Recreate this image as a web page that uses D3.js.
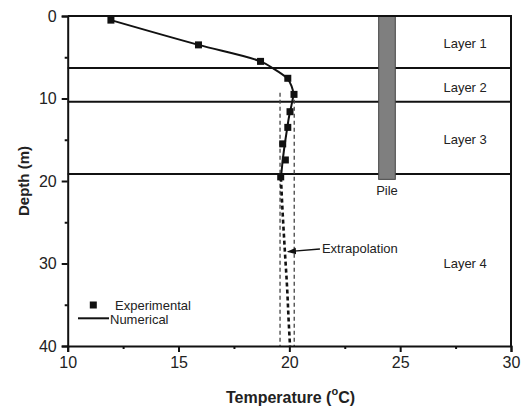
<!DOCTYPE html>
<html>
<head>
<meta charset="utf-8">
<script src="https://cdn.jsdelivr.net/npm/d3@7"></script>
<style>
  html, body { margin: 0; padding: 0; background: #fff; }
  svg { display: block; font-family: "Liberation Sans", Arial, sans-serif; }
</style>
</head>
<body>
<svg id="chart" width="523" height="412"></svg>
<script>
// Axis ticks
const tempTicks = [10, 15, 20, 25, 30];
const tempMinor = [12.5, 17.5, 22.5, 27.5];
const depthTicks = [0, 10, 20, 30, 40];
const depthMinor = [5, 15, 25, 35];

// Measured ground temperature profile
const expDepth = [0.5, 3.5, 5.5, 7.55, 9.5, 11.6, 13.5, 15.5, 17.45, 19.5];
const expTemp  = [11.95, 15.9, 18.7, 19.93, 20.21, 20.03, 19.93, 19.7, 19.82, 19.61];

// Numerical profile (solid part, within the pile length)
const numDepth = [0.5, 3.5, 5.5, 6.4, 7.5, 8.5, 9.5, 10.5, 12, 14, 16, 18, 19.6];
const numTemp  = [11.95, 15.9, 18.7, 19.3, 19.88, 20.1, 20.18, 20.12, 20.0, 19.88, 19.77, 19.68, 19.62];

// Numerical profile extrapolated below the pile toe
const extDepth = [19.6, 24, 28.6, 33, 37, 40];
const extTemp  = [19.62, 19.7, 19.8, 19.9, 19.97, 20.03];

// Bounds of the extrapolated band
const bandTemp = [19.58, 20.22];
const bandDepth = [9.3, 40];

// Soil layer boundaries and labels
const layerBounds = [6.3, 10.4, 19.15];
const layerNames = ["Layer 1", "Layer 2", "Layer 3", "Layer 4"];
const layerLabelDepth = [3.3, 8.65, 15.0, 30.05];
const layerLabelTemp = 27.93;

// Pile extent
const pileTemp = [24.03, 24.78];
const pileDepth = [0, 19.8];

const svg = d3.select("#chart");
const x = d3.scaleLinear().domain([10, 30]).range([67.7, 511]);
const y = d3.scaleLinear().domain([0, 40]).range([16, 346]);
const ink = "#111";
const textCol = "#222";

// Layer boundaries
svg.append("g").selectAll("line").data(layerBounds).join("line")
  .attr("x1", x(10)).attr("x2", x(30))
  .attr("y1", d => y(d)).attr("y2", d => y(d))
  .attr("stroke", ink).attr("stroke-width", 2);

// Pile
svg.append("rect")
  .attr("x", x(pileTemp[0])).attr("y", y(pileDepth[0]))
  .attr("width", x(pileTemp[1]) - x(pileTemp[0]))
  .attr("height", y(pileDepth[1]) - y(pileDepth[0]))
  .attr("fill", "#7f7f7f").attr("stroke", "#444").attr("stroke-width", 1);
svg.append("text").attr("x", x((pileTemp[0] + pileTemp[1]) / 2)).attr("y", y(21.1))
  .attr("text-anchor", "middle").attr("dominant-baseline", "central")
  .attr("font-size", 13).attr("fill", textCol).text("Pile");

// Layer labels
svg.append("g").selectAll("text").data(layerNames).join("text")
  .attr("x", x(layerLabelTemp)).attr("y", (d, i) => y(layerLabelDepth[i]))
  .attr("text-anchor", "middle").attr("dominant-baseline", "central")
  .attr("font-size", 13).attr("fill", textCol).text(d => d);

// Extrapolation band
svg.append("g").selectAll("line").data(bandTemp).join("line")
  .attr("x1", d => x(d)).attr("x2", d => x(d))
  .attr("y1", y(bandDepth[0])).attr("y2", y(bandDepth[1]))
  .attr("stroke", "#444").attr("stroke-width", 1.3).attr("stroke-dasharray", "4,3");

// Numerical profile
const line = d3.line().x(d => x(d[1])).y(d => y(d[0])).curve(d3.curveMonotoneY);
svg.append("path").datum(numDepth.map((d, i) => [d, numTemp[i]]))
  .attr("d", line).attr("fill", "none").attr("stroke", ink).attr("stroke-width", 2);
svg.append("path").datum(extDepth.map((d, i) => [d, extTemp[i]]))
  .attr("d", line).attr("fill", "none").attr("stroke", ink).attr("stroke-width", 2.6)
  .attr("stroke-dasharray", "4,3");

// Measured points
const ms = 7;
svg.append("g").selectAll("rect").data(expDepth.map((d, i) => [d, expTemp[i]])).join("rect")
  .attr("x", d => x(d[1]) - ms / 2).attr("y", d => y(d[0]) - ms / 2)
  .attr("width", ms).attr("height", ms).attr("fill", ink);

// Extrapolation annotation
svg.append("defs").append("marker").attr("id", "arrow")
  .attr("viewBox", "0 0 10 10").attr("refX", 9).attr("refY", 5)
  .attr("markerWidth", 7).attr("markerHeight", 7).attr("orient", "auto")
  .append("path").attr("d", "M0,1.5L10,5L0,8.5Z").attr("fill", ink);
svg.append("line")
  .attr("x1", x(21.38)).attr("y1", y(28.24))
  .attr("x2", x(19.93)).attr("y2", y(28.57))
  .attr("stroke", ink).attr("stroke-width", 1.3).attr("marker-end", "url(#arrow)");
svg.append("text").attr("x", x(21.47)).attr("y", y(28.2))
  .attr("dominant-baseline", "central").attr("font-size", 13).attr("fill", textCol)
  .text("Extrapolation");

// Frame (top and right)
svg.append("path")
  .attr("d", `M${x(10)},${y(0)}H${x(30)}V${y(40)}`)
  .attr("fill", "none").attr("stroke", ink).attr("stroke-width", 2);

// Axes
const xAxis = svg.append("g").attr("transform", `translate(0,${y(40)})`)
  .call(d3.axisBottom(x).tickValues(tempTicks).tickSize(6).tickPadding(5));
const xMinor = svg.append("g").attr("transform", `translate(0,${y(40)})`)
  .call(d3.axisBottom(x).tickValues(tempMinor).tickSize(3).tickFormat(""));
const yAxis = svg.append("g").attr("transform", `translate(${x(10)},0)`)
  .call(d3.axisLeft(y).tickValues(depthTicks).tickSize(6).tickPadding(5));
const yMinor = svg.append("g").attr("transform", `translate(${x(10)},0)`)
  .call(d3.axisLeft(y).tickValues(depthMinor).tickSize(3).tickFormat(""));
[xAxis, xMinor, yAxis, yMinor].forEach(g => {
  g.select(".domain").attr("stroke", ink).attr("stroke-width", 2);
  g.selectAll(".tick line").attr("stroke", ink).attr("stroke-width", 2);
  g.selectAll(".tick text").attr("font-size", 16).attr("fill", textCol)
    .attr("font-family", "Liberation Sans, Arial, sans-serif");
});
xMinor.select(".domain").remove();
yMinor.select(".domain").remove();

// Axis titles
const xt = svg.append("text").attr("x", 290.5).attr("y", 397)
  .attr("text-anchor", "middle").attr("dominant-baseline", "central")
  .attr("font-size", 16).attr("font-weight", "bold").attr("fill", textCol);
xt.append("tspan").text("Temperature (");
xt.append("tspan").attr("font-size", 11).attr("dy", -6).text("o");
xt.append("tspan").attr("dy", 6).text("C)");
svg.append("text").attr("transform", `translate(23,${(y(0) + y(40)) / 2}) rotate(-90)`)
  .attr("text-anchor", "middle").attr("dominant-baseline", "central")
  .attr("font-size", 15).attr("font-weight", "bold").attr("fill", textCol)
  .text("Depth (m)");

// Legend
const lg = svg.append("g");
lg.append("rect").attr("x", 93.3 - ms / 2).attr("y", 305 - ms / 2)
  .attr("width", ms).attr("height", ms).attr("fill", ink);
lg.append("text").attr("x", 115).attr("y", 305).attr("dominant-baseline", "central")
  .attr("font-size", 13).attr("fill", textCol).text("Experimental");
lg.append("line").attr("x1", 78).attr("x2", 109).attr("y1", 318.3).attr("y2", 318.3)
  .attr("stroke", ink).attr("stroke-width", 2);
lg.append("text").attr("x", 110).attr("y", 319.5).attr("dominant-baseline", "central")
  .attr("font-size", 13).attr("fill", textCol).text("Numerical");
</script>
</body>
</html>
